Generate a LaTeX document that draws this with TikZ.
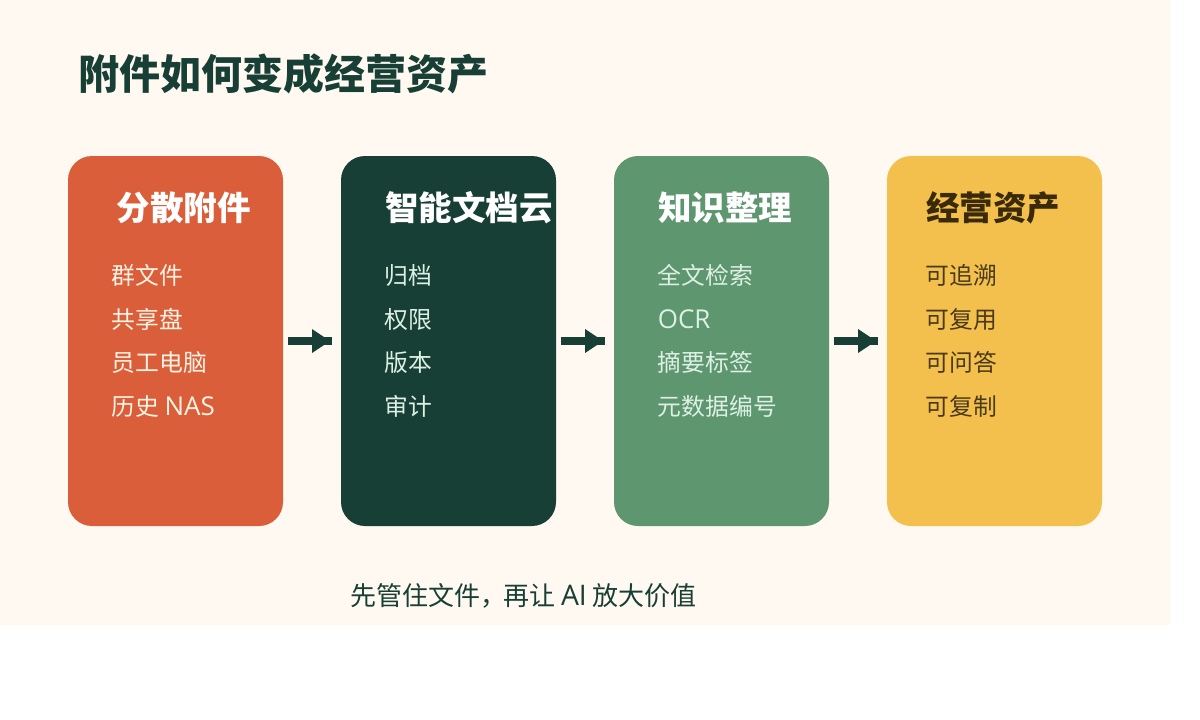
\documentclass[tikz,border=0pt]{standalone}
\usepackage{fontspec}
\setmainfont{Open Sans}
\newfontfamily\cjk{Noto Sans CJK SC}
\newfontfamily\latn[Scale=1.09]{Open Sans}
\usetikzlibrary{arrows.meta}
\definecolor{bgc}{HTML}{FFF9F1}
\definecolor{ink}{HTML}{173F35}
\definecolor{cardA}{HTML}{DA5E3A}
\definecolor{cardB}{HTML}{173F35}
\definecolor{cardC}{HTML}{5E966F}
\definecolor{cardD}{HTML}{F3C04D}
\definecolor{brownT}{HTML}{3B2A08}
\definecolor{brownI}{HTML}{4A3A1C}
\definecolor{itemL}{HTML}{FFF3E4}
\definecolor{itemG}{HTML}{DDF0E4}
\tikzset{
 x=1pt,y=-1pt,
 card/.style={rounded corners=24pt,minimum width=215pt,minimum height=370pt,inner sep=0pt,outer sep=0pt},
 ctitle/.style={anchor=base west,inner sep=0pt,font=\cjk\bfseries\fontsize{33.5pt}{33pt}\selectfont},
 citem/.style={anchor=base west,inner sep=0pt,font=\cjk\fontsize{23.8pt}{24pt}\selectfont},
 shaft/.style={draw=ink,line width=8pt,shorten <=5pt,shorten >=9pt},
 head/.style={fill=ink,draw=none},
}
\begin{document}
\begin{tikzpicture}
\useasboundingbox (0,0) rectangle (1200,720);
\fill[white] (0,0) rectangle (1200,720);
\fill[bgc] (0,0) rectangle (1170,625);
\node[anchor=base west,inner sep=0pt,text=ink,font=\cjk\bfseries\fontsize{41pt}{41pt}\selectfont] (title) at (78,89) {附件如何变成经营资产};
\node[card,fill=cardA] (c1) at (175.5,341) {};
\node[card,fill=cardB] (c2) at (448.5,341) {};
\node[card,fill=cardC] (c3) at (721.5,341) {};
\node[card,fill=cardD] (c4) at (994.5,341) {};
\draw[shaft] (c1.east) -- (c2.west);
\draw[shaft] (c2.east) -- (c3.west);
\draw[shaft] (c3.east) -- (c4.west);
\fill[head] ([xshift=-29pt]c2.west) -- ++(0,-12) -- ++(18,12) -- ++(-18,12) -- cycle;
\fill[head] ([xshift=-29pt]c3.west) -- ++(0,-12) -- ++(18,12) -- ++(-18,12) -- cycle;
\fill[head] ([xshift=-29pt]c4.west) -- ++(0,-12) -- ++(18,12) -- ++(-18,12) -- cycle;
\node[ctitle,text=white] (t1) at (116.4,220) {分散附件};
\node[citem,text=itemL] (a1) at (111.5,284) {群文件};
\node[citem,text=itemL] (a2) at (111.5,328) {共享盘};
\node[citem,text=itemL] (a3) at (111.5,371) {员工电脑};
\node[citem,text=itemL] (a4) at (111.5,415) {历史 {\latn NAS}};
\node[ctitle,text=white] (t2) at (384.8,220) {智能文档云};
\node[citem,text=itemG] (b1) at (384.6,284) {归档};
\node[citem,text=itemG] (b2) at (384.6,328) {权限};
\node[citem,text=itemG] (b3) at (384.6,371) {版本};
\node[citem,text=itemG] (b4) at (384.6,415) {审计};
\node[ctitle,text=white] (t3) at (657.8,220) {知识整理};
\node[citem,text=itemG] (d1) at (657.6,284) {全文检索};
\node[citem,text=itemG] (d2) at (657.6,328) {\latn OCR};
\node[citem,text=itemG] (d3) at (657.6,371) {摘要标签};
\node[citem,text=itemG] (d4) at (657.6,415) {元数据编号};
\node[ctitle,text=brownT] (t4) at (925.8,220) {经营资产};
\node[citem,text=brownI] (e1) at (925.6,284) {可追溯};
\node[citem,text=brownI] (e2) at (925.6,328) {可复用};
\node[citem,text=brownI] (e3) at (925.6,371) {可问答};
\node[citem,text=brownI] (e4) at (925.6,415) {可复制};
\node[anchor=base west,inner sep=0pt,text=ink,font=\cjk\fontsize{26pt}{26pt}\selectfont] (foot) at (350,605) {先管住文件，\kern-3pt 再让 {\latn AI} 放大价值};
\end{tikzpicture}
\end{document}
